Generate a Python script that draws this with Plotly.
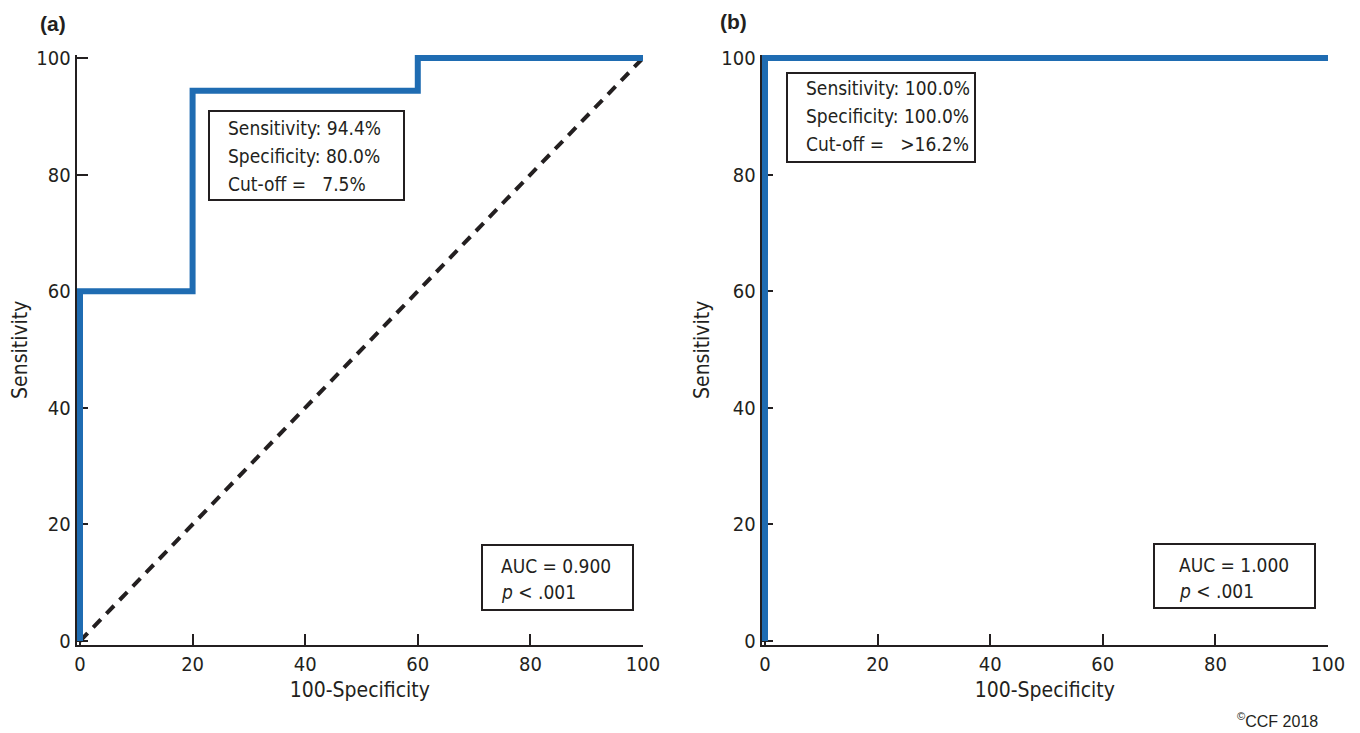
import plotly.graph_objects as go

# ---- data ----
roc_a_x = [0, 0, 20, 20, 60, 60, 100]
roc_a_y = [0, 60, 60, 94.4, 94.4, 100, 100]
ref_x = [0, 100]
ref_y = [0, 100]
roc_b_x = [0, 0, 100]
roc_b_y = [0, 100, 100]
tick_vals = [0, 20, 40, 60, 80, 100]
tick_text = ["0", "20", "40", "60", "80", "100"]
stats_a = ["Sensitivity: 94.4%", "Specificity: 80.0%", "Cut-off =   7.5%"]
auc_a = ["AUC = 0.900", "<i>p</i> < .001"]
stats_b = ["Sensitivity: 100.0%", "Specificity: 100.0%", "Cut-off =   >16.2%"]
auc_b = ["AUC = 1.000", "<i>p</i> < .001"]

BLUE = "#1f6cb2"
INK = "#231f20"
FONT = "DejaVu Sans Condensed, Liberation Sans Narrow, sans-serif"
BOLD = "Liberation Sans, Arial, sans-serif"

fig = go.Figure()
fig.add_trace(go.Scatter(x=ref_x, y=ref_y, mode="lines", xaxis="x", yaxis="y",
                         line=dict(color=INK, width=4, dash="11px,8px"), showlegend=False))
fig.add_trace(go.Scatter(x=roc_a_x, y=roc_a_y, mode="lines", xaxis="x", yaxis="y",
                         line=dict(color=BLUE, width=6), showlegend=False))
fig.add_trace(go.Scatter(x=roc_b_x, y=roc_b_y, mode="lines", xaxis="x2", yaxis="y2",
                         line=dict(color=BLUE, width=6), showlegend=False))

OFF = 8  # default page body margin
W, H = 1360 - OFF, 733 - OFF
def px_x(p): return (p - OFF) / W
def px_y(p): return 1 - (p - OFF) / H

axis_common = dict(showgrid=False, zeroline=False, showline=True, automargin=False,
                   linecolor=INK, linewidth=2, ticks="inside", ticklen=11,
                   tickwidth=2, tickcolor=INK, tickvals=tick_vals, ticktext=tick_text,
                   tickfont=dict(family=FONT, size=20, color=INK), layer="below traces",
                   fixedrange=True)

xr = [-0.6, 100]
yr = [-0.6, 100.5]
ydom = [px_y(641 + 3.5), px_y(58 - 2.9)]

fig.update_layout(
    width=W, height=H, margin=dict(l=0, r=0, t=0, b=0, autoexpand=False),
    plot_bgcolor="white", paper_bgcolor="white",
    xaxis=dict(axis_common, range=xr, domain=[px_x(80 - 3.4), px_x(643)], anchor="y",
               title=dict(text="100-Specificity", font=dict(family=FONT, size=21, color=INK), standoff=8)),
    yaxis=dict(axis_common, range=yr, domain=ydom, anchor="x",
               title=dict(text="Sensitivity", font=dict(family=FONT, size=21, color=INK), standoff=6)),
    xaxis2=dict(axis_common, range=xr, domain=[px_x(765 - 3.4), px_x(1328)], anchor="y2",
                title=dict(text="100-Specificity", font=dict(family=FONT, size=21, color=INK), standoff=8)),
    yaxis2=dict(axis_common, range=yr, domain=ydom, anchor="x2",
                title=dict(text="Sensitivity", font=dict(family=FONT, size=21, color=INK), standoff=6)),
)

shapes = []
annotations = []

def box(x0, y0, x1, y1):
    shapes.append(dict(type="rect", xref="paper", yref="paper",
                       x0=px_x(x0), x1=px_x(x1), y0=px_y(y1), y1=px_y(y0),
                       line=dict(color=INK, width=2), fillcolor="white", layer="above"))

def lines(texts, x, ys, size=19):
    for t, y in zip(texts, ys):
        annotations.append(dict(text=t, xref="paper", yref="paper", x=px_x(x), y=px_y(y),
                                xanchor="left", yanchor="middle", showarrow=False,
                                font=dict(family=FONT, size=size, color=INK)))

box(209, 111, 404, 200)
lines(stats_a, 226, [128, 156, 184])
box(482, 545, 633, 610)
lines(auc_a, 499, [566, 592])
box(787, 73, 975, 162)
lines(stats_b, 804, [88, 116, 144])
box(1154, 544, 1315, 608)
lines(auc_b, 1177, [565, 591])

annotations.append(dict(text="<b>(a)</b>", xref="paper", yref="paper", x=px_x(38), y=px_y(24),
                        xanchor="left", yanchor="middle", showarrow=False,
                        font=dict(family=BOLD, size=21, color=INK)))
annotations.append(dict(text="<b>(b)</b>", xref="paper", yref="paper", x=px_x(718), y=px_y(22),
                        xanchor="left", yanchor="middle", showarrow=False,
                        font=dict(family=BOLD, size=21, color=INK)))
annotations.append(dict(text="<sup>©</sup>CCF 2018", xref="paper", yref="paper", x=px_x(1320), y=px_y(720),
                        xanchor="right", yanchor="middle", showarrow=False,
                        font=dict(family=BOLD, size=16, color=INK)))

fig.update_layout(shapes=shapes, annotations=annotations)
fig.write_html("out.html")
